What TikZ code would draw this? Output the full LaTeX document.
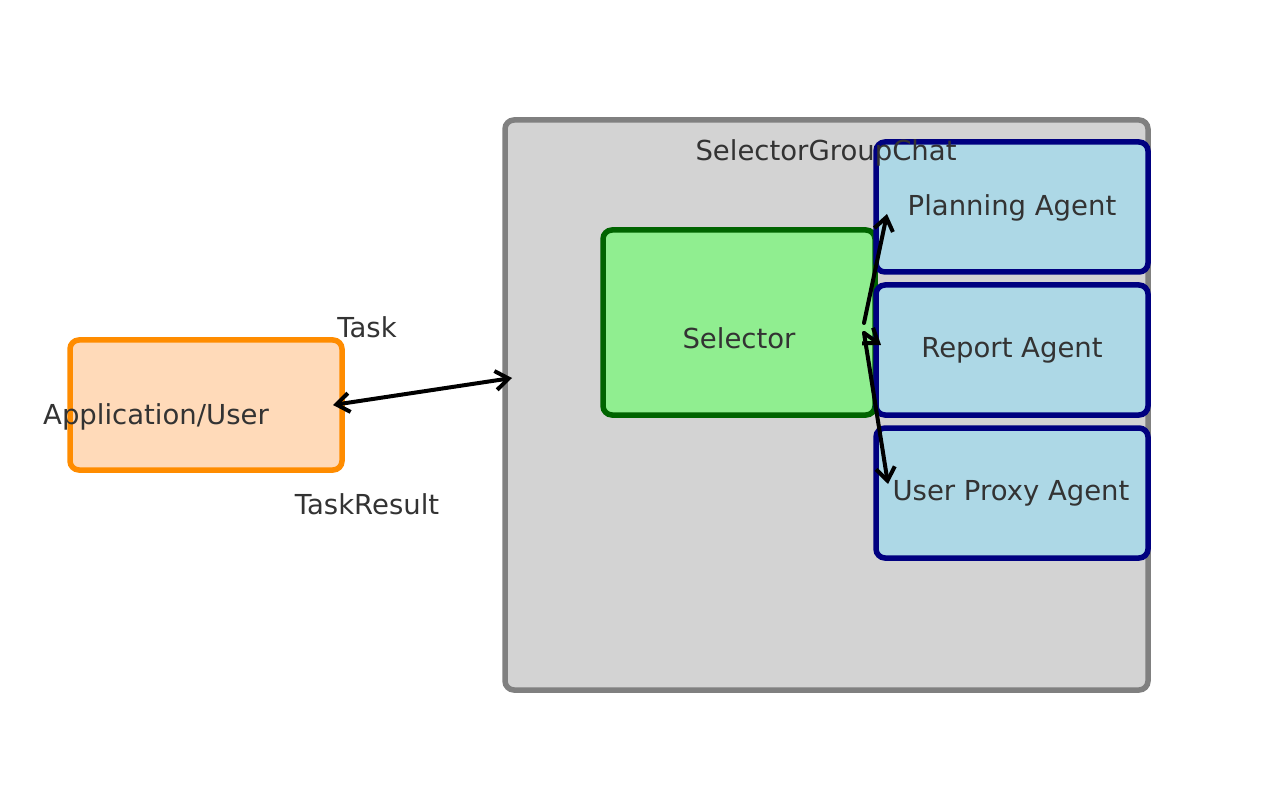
\documentclass[tikz,border=0pt]{standalone}
\usepackage{fontspec}
\setmainfont{DejaVu Sans}
\usetikzlibrary{arrows.meta}
\definecolor{txt}{HTML}{333333}
\definecolor{peach}{HTML}{FFDAB9}
\definecolor{dorange}{HTML}{FF8C00}
\definecolor{lgray}{HTML}{D3D3D3}
\definecolor{mgray}{HTML}{808080}
\definecolor{lgreen}{HTML}{90EE90}
\definecolor{dgreen}{HTML}{006400}
\definecolor{lblue}{HTML}{ADD8E6}
\definecolor{navyc}{HTML}{000080}
\tikzset{
  boxbase/.style={rounded corners=9pt, line width=5.5pt},
  label/.style={text=txt, font=\fontsize{27.5}{32}\selectfont, inner sep=0pt},
  agentbox/.style={boxbase, draw=navyc, fill=lblue},
  conn/.style={line width=4pt, line cap=round, -{Straight Barb[length=13pt,width=19pt,line width=4pt]}},
  conn2/.style={line width=4pt, {Straight Barb[length=13pt,width=19pt,line width=4pt]}-{Straight Barb[length=13pt,width=19pt,line width=4pt]}}
}
\begin{document}
\begin{tikzpicture}[x=1pt,y=-1pt]
\useasboundingbox (0,0) rectangle (1280,810);
% container
\draw[boxbase, draw=mgray, fill=lgray] (505,120) rectangle (1148,690);
% application
\draw[boxbase, draw=dorange, fill=peach] (70,340) rectangle (342,470);
\node[label] (app) at (156,417) {Application/User};
% selector
\draw[boxbase, draw=dgreen, fill=lgreen] (603,230) rectangle (875,415);
\node[label] (sel) at (739,338) {Selector};
% agents
\draw[agentbox] (876,142) rectangle (1148,272);
\node[label] (plan) at (1012,208) {Planning Agent};
\draw[agentbox] (876,285) rectangle (1148,415);
\node[label] (rep) at (1012,350) {Report Agent};
\draw[agentbox] (876,428) rectangle (1148,558);
\node[label] (proxy) at (1011,493) {User Proxy Agent};
\node[label] (sgc) at (826,153) {SelectorGroupChat};
% labels
\node[label] (task) at (367,327) {Task};
\node[label] (tres) at (367,504) {TaskResult};
% connector end points
\coordinate (appR) at (333,405);
\coordinate (grpL) at (512,378);
\coordinate (selA) at (864,323);
\coordinate (selB) at (864,333);
\coordinate (planE) at (887,214);
\coordinate (repE) at (881,345);
\coordinate (proxyE) at (888,484);
\draw[conn2] (appR) -- (grpL);
\draw[conn] (selA) -- (planE);
\draw[conn] (selB) -- (repE);
\draw[conn] (selB) -- (proxyE);
\end{tikzpicture}
\end{document}
